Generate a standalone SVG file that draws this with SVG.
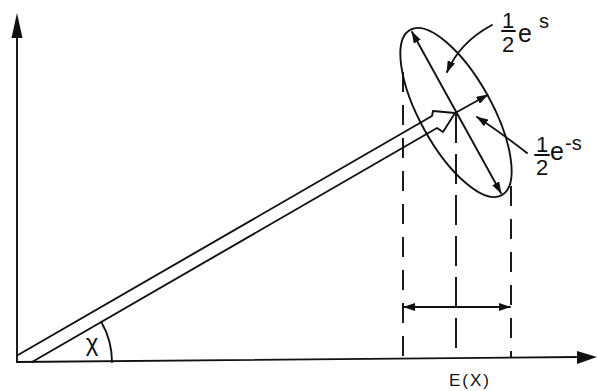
<svg xmlns="http://www.w3.org/2000/svg" width="597" height="391" viewBox="0 0 597 391">
<style>
.ln{fill:none;stroke:#111;stroke-width:1.9;stroke-linecap:round;stroke-linejoin:round}
.dash{fill:none;stroke:#111;stroke-width:1.9;stroke-dasharray:20 13}
.dashc{fill:none;stroke:#111;stroke-width:1.9;stroke-dasharray:30 11}
.t{font-family:"Liberation Sans","DejaVu Sans",sans-serif;fill:#111}
.ah{fill:#111;stroke:none}
</style>
<defs>
<marker id="arr" viewBox="0 0 12 8" refX="11" refY="4" markerWidth="12" markerHeight="8" markerUnits="userSpaceOnUse" orient="auto-start-reverse">
<path d="M0,0 L12,4 L0,8 z" class="ah"/>
</marker>
</defs>
<rect width="597" height="391" fill="#fff"/>
<g id="axes">
<line class="ln" x1="17" y1="362" x2="17" y2="36"/>
<path class="ah" d="M17,13 L22.5,38 L11.5,38 z"/>
<line class="ln" x1="17" y1="362" x2="580" y2="357"/>
<path class="ah" d="M597,357 L577,351 L577,364 z"/>
</g>
<g id="vector">
<path class="ln" d="M18,355 L432,116 L433,111 L455,113 L443,132 L437,128 L32,362"/>
</g>
<g id="angle">
<path class="ln" d="M101.3,322 A80,80 0 0 1 112,362"/>
<text class="t" x="92" y="351" font-size="24" text-anchor="middle" font-family="DejaVu Sans, sans-serif">χ</text>
</g>
<g id="ellipse">
<ellipse class="ln" cx="456" cy="112.5" rx="94.5" ry="36" transform="rotate(61 456 112.5)"/>
</g>
<g id="connectors">
<line class="ln" x1="412" y1="32" x2="501" y2="193" marker-start="url(#arr)" marker-end="url(#arr)"/>
<line class="ln" x1="456" y1="112.5" x2="487.5" y2="95" marker-end="url(#arr)"/>
<path class="ln" d="M492,25 Q460,42 447,72" marker-end="url(#arr)"/>
<path class="ln" d="M527,153 Q500,132 477,117" marker-end="url(#arr)"/>
<line class="dash" x1="403" y1="72" x2="403" y2="359"/>
<line class="dashc" x1="456" y1="113" x2="456" y2="358"/>
<line class="dash" x1="511" y1="186" x2="511" y2="357"/>
<line class="ln" x1="404" y1="307" x2="510" y2="307" marker-start="url(#arr)" marker-end="url(#arr)"/>
</g>
<g id="label-es">
<text class="t" x="508" y="28" font-size="22" text-anchor="middle">1</text>
<line class="ln" x1="502" y1="31" x2="515" y2="31"/>
<text class="t" x="508" y="52" font-size="22" text-anchor="middle">2</text>
<text class="t" x="518" y="42" font-size="25">e</text>
<text class="t" x="539" y="28" font-size="20">s</text>
</g>
<g id="label-ems">
<text class="t" x="542" y="152" font-size="22" text-anchor="middle">1</text>
<line class="ln" x1="535" y1="155" x2="549" y2="155"/>
<text class="t" x="542" y="175" font-size="22" text-anchor="middle">2</text>
<text class="t" x="550" y="160" font-size="25">e</text>
<text class="t" x="565" y="150" font-size="20">-s</text>
</g>
<g id="label-ex">
<text class="t" x="470" y="386" font-size="17" text-anchor="middle" letter-spacing="2">E(X)</text>
</g>
</svg>
